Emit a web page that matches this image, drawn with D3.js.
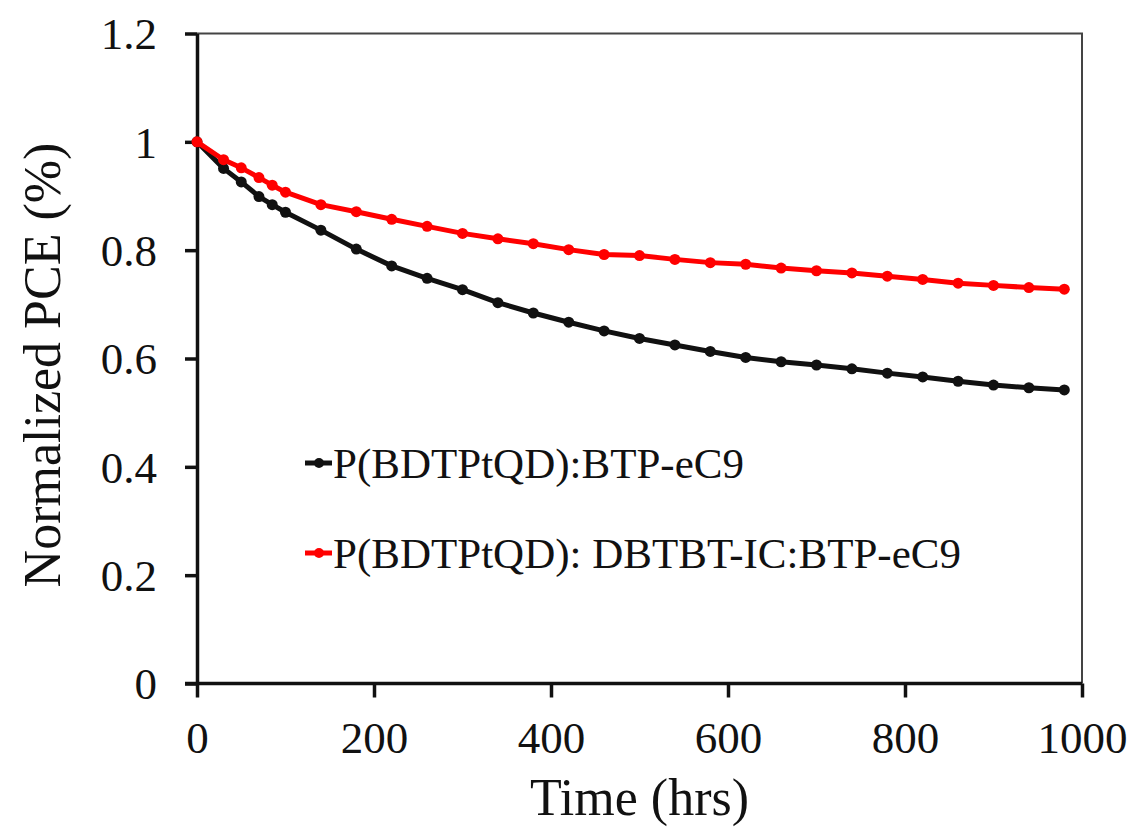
<!DOCTYPE html>
<html>
<head>
<meta charset="utf-8">
<script src="https://cdn.jsdelivr.net/npm/d3@7"></script>
<style>
  body { margin: 0; background: #fff; }
  svg text { font-family: "Liberation Serif", "Times New Roman", serif; fill: #111; }
</style>
</head>
<body>
<div id="chart"></div>
<script>
// time points (hrs)
var times = [0, 30, 50, 70, 85, 100, 140, 180, 220, 260, 300, 340, 380, 420, 460, 500,
  540, 580, 620, 660, 700, 740, 780, 820, 860, 900, 940, 980];
// P(BDTPtQD):BTP-eC9
var blackVals = [1.0, 0.951, 0.926, 0.899, 0.884, 0.870, 0.837, 0.802, 0.771, 0.748, 0.727, 0.703,
  0.684, 0.667, 0.651, 0.637, 0.625, 0.613, 0.602, 0.594, 0.588, 0.581, 0.573, 0.566, 0.558, 0.551, 0.546, 0.542];
// P(BDTPtQD): DBTBT-IC:BTP-eC9
var redVals = [1.0, 0.967, 0.952, 0.934, 0.920, 0.907, 0.884, 0.871, 0.857, 0.844, 0.831, 0.821,
  0.812, 0.801, 0.792, 0.790, 0.783, 0.777, 0.774, 0.767, 0.762, 0.758, 0.752, 0.746, 0.739, 0.735, 0.731, 0.728];
var seriesNames = ["P(BDTPtQD):BTP-eC9", "P(BDTPtQD): DBTBT-IC:BTP-eC9"];
var seriesColors = ["#111111", "#ff0000"];
var xTicks = [0, 200, 400, 600, 800, 1000];
var yTicks = [0, 0.2, 0.4, 0.6, 0.8, 1, 1.2];

var W = 1132, H = 827;
var plotL = 197, plotR = 1082, plotT = 33.5, plotB = 683.5;

var svg = d3.select("#chart").append("svg").attr("width", W).attr("height", H);

var x = d3.scaleLinear().domain([0, 1000]).range([plotL, plotR]);
var y = d3.scaleLinear().domain([0, 1.2]).range([plotB, plotT]);

// frame (top + right), thin gray
svg.append("path")
  .attr("d", "M" + plotL + "," + plotT + "H" + plotR + "V" + plotB)
  .attr("fill", "none").attr("stroke", "#444").attr("stroke-width", 2);

// x axis
var xAxis = svg.append("g").attr("transform", "translate(0," + plotB + ")")
  .call(d3.axisBottom(x).tickValues(xTicks).tickSize(14).tickPadding(24).tickSizeOuter(0)
    .tickFormat(d3.format("d")));
// y axis
var yAxis = svg.append("g").attr("transform", "translate(" + plotL + ",0)")
  .call(d3.axisLeft(y).tickValues(yTicks).tickSize(12).tickPadding(28).tickSizeOuter(0)
    .tickFormat(function(d) { return d === 0 || d === 1 ? String(d) : d3.format(".1f")(d); }));

[xAxis, yAxis].forEach(function(g) {
  g.select(".domain").attr("stroke", "#111").attr("stroke-width", 3.5);
  g.selectAll(".tick line").attr("stroke", "#111").attr("stroke-width", 3.5);
  g.selectAll(".tick text").attr("font-size", 45).attr("fill", "#111")
    .attr("font-family", "Liberation Serif, Times New Roman, serif");
});
yAxis.selectAll(".tick text").attr("dy", "0.34em");
// extend the x axis line left to meet the y tick
xAxis.select(".domain").attr("d", "M" + (plotL - 12) + ",0H" + plotR);

// series
var data = [blackVals, redVals];
var line = d3.line().x(function(d, i) { return x(times[i]); }).y(function(d) { return y(d); });

data.forEach(function(vals, k) {
  var g = svg.append("g");
  g.append("path").datum(vals).attr("d", line)
    .attr("fill", "none").attr("stroke", seriesColors[k]).attr("stroke-width", 5)
    .attr("stroke-linejoin", "round");
  g.selectAll("circle").data(vals).enter().append("circle")
    .attr("cx", function(d, i) { return x(times[i]); })
    .attr("cy", function(d) { return y(d); })
    .attr("r", 5.5).attr("fill", seriesColors[k]);
});

// legend
var legY = [463, 553];
seriesNames.forEach(function(name, k) {
  var g = svg.append("g").attr("transform", "translate(305," + legY[k] + ")");
  g.append("line").attr("x1", 0).attr("x2", 27).attr("y1", 0).attr("y2", 0)
    .attr("stroke", seriesColors[k]).attr("stroke-width", 5);
  g.append("circle").attr("cx", 14).attr("cy", 0).attr("r", 5).attr("fill", seriesColors[k]);
  g.append("text").attr("x", 28).attr("y", 0).attr("dy", "0.35em")
    .attr("font-size", 43).text(name);
});

// axis titles
svg.append("text").attr("x", (plotL + plotR) / 2).attr("y", 815)
  .attr("text-anchor", "middle").attr("font-size", 52).text("Time (hrs)");
svg.append("text").attr("transform", "translate(60,365) rotate(-90)")
  .attr("text-anchor", "middle").attr("font-size", 52).text("Normalized PCE (%)");
</script>
</body>
</html>
